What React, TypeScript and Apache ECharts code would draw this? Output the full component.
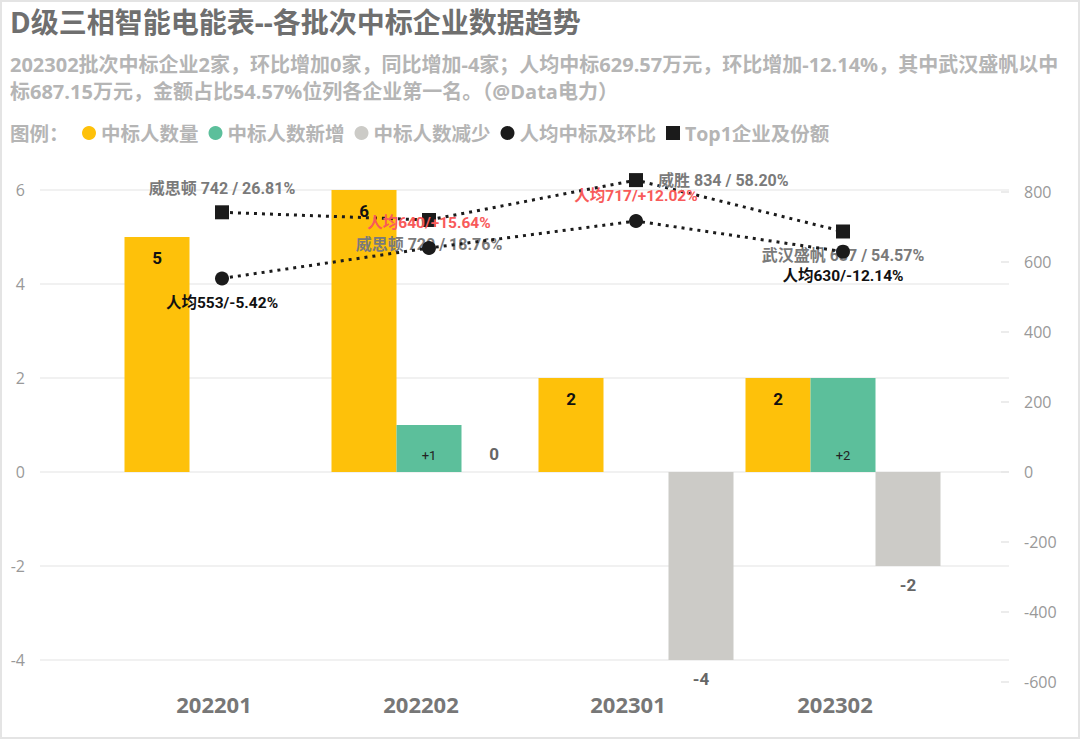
import { useEffect, useRef } from 'react';
import * as echarts from 'echarts';

// batches and bar values (number of winning companies)
const batches = ['202201', '202202', '202301', '202302'];
const winnerCount = [5, 6, 2, 2];
const winnerAdded = [null, 1, null, 2];
const winnerReduced = [null, 0, -4, -2];

// average award per company (万元) and change vs previous batch (%)
const avgAmount = [553, 640, 717, 629.57];
const avgChange = [-5.42, 15.64, 12.02, -12.14];

// top1 company per batch
const top1Names = ['威思顿', '威思顿', '威胜', '武汉盛帆'];
const top1Amount = [742, 720, 834, 687.15];
const top1Share = [26.81, 18.76, 58.2, 54.57];

const TITLE = 'D级三相智能电能表--各批次中标企业数据趋势';
const SUBTITLE =
  '202302批次中标企业2家，环比增加0家，同比增加-4家；人均中标629.57万元，环比增加-12.14%，其中武汉盛帆以中\n' +
  '标687.15万元，金额占比54.57%位列各企业第一名。（@Data电力）';

const YELLOW = '#FEC10A';
const GREEN = '#5CBF9B';
const GRAY = '#CCCBC7';
const DARK = '#1b1b1b';
const RED = '#F85A5A';

const UI_FONT = "'Open Sans', 'Noto Sans CJK SC', sans-serif";
const NUM_FONT = "Roboto, 'Noto Sans CJK SC', sans-serif";

const fmtChange = (c: number) => `${c > 0 ? '+' : ''}${c.toFixed(2)}%`;

export default function App() {
  const chartRef = useRef<HTMLDivElement>(null);

  useEffect(() => {
    if (!chartRef.current) return;
    const chart = echarts.init(chartRef.current, null, { renderer: 'svg' });

    const top1LabelPos = ['top', 'bottom', 'right', 'bottom'];

    chart.setOption({
      animation: false,
      backgroundColor: '#fff',
      textStyle: { fontFamily: UI_FONT },
      title: {
        left: 10,
        top: 5,
        padding: 0,
        itemGap: 12,
        text: TITLE,
        textStyle: { fontSize: 28, fontWeight: 'bold', color: '#6f6f6f', lineHeight: 34, fontFamily: UI_FONT },
        subtext: SUBTITLE,
        subtextStyle: { fontSize: 20, fontWeight: 'bold', color: '#b5b5b5', lineHeight: 27, fontFamily: UI_FONT },
      },
      graphic: [
        {
          type: 'rect',
          silent: true,
          z: -1,
          shape: { x: 1, y: 1, width: 1078, height: 737 },
          style: { fill: 'none', stroke: '#e4e4e4', lineWidth: 2 },
        },
        {
          type: 'text',
          x: 10,
          y: 133,
          style: {
            text: '图例：',
            verticalAlign: 'middle',
            fontSize: 19.5,
            fontWeight: 'bold',
            fill: '#b5b5b5',
            fontFamily: UI_FONT,
          },
        },
      ],
      legend: {
        left: 82,
        top: 121,
        padding: 0,
        itemWidth: 14,
        itemHeight: 14,
        itemGap: 10,
        selectedMode: false,
        textStyle: { color: '#b5b5b5', fontSize: 19.5, fontWeight: 'bold', lineHeight: 24, fontFamily: UI_FONT },
        data: [
          { name: '中标人数量', icon: 'circle' },
          { name: '中标人数新增', icon: 'circle' },
          { name: '中标人数减少', icon: 'circle' },
          { name: '人均中标及环比', icon: 'circle' },
          { name: 'Top1企业及份额', icon: 'rect' },
        ],
      },
      grid: [
        { left: 40, right: 71, top: 190, bottom: 79 }, // gridlines + left labels
        { left: 118.5, right: 133.5, top: 190, bottom: 79 }, // bars
        { left: 118.5, right: 133.5, top: 192, bottom: 57 }, // lines
        { left: 40, right: 71, top: 192, bottom: 57 }, // right labels
      ],
      xAxis: [
        { gridIndex: 0, type: 'value', show: false },
        {
          gridIndex: 1,
          type: 'category',
          data: batches,
          axisLine: { show: false },
          axisTick: { show: false },
          axisLabel: {
            color: '#777',
            fontSize: 22,
            fontWeight: 'bold',
            margin: 33,
            padding: [0, 16, 0, 0],
            fontFamily: UI_FONT,
          },
        },
        { gridIndex: 2, type: 'category', data: batches, show: false },
        { gridIndex: 3, type: 'value', show: false },
      ],
      yAxis: [
        {
          gridIndex: 0,
          type: 'value',
          min: -4,
          max: 6,
          interval: 2,
          axisLine: { show: false, onZero: false },
          axisTick: { show: false },
          axisLabel: { color: '#999', fontSize: 16, margin: 15, fontFamily: UI_FONT },
          splitLine: { lineStyle: { color: '#ececec', width: 1.5 } },
        },
        { gridIndex: 1, type: 'value', min: -4, max: 6, show: false },
        { gridIndex: 2, type: 'value', min: -600, max: 800, show: false },
        {
          gridIndex: 3,
          type: 'value',
          position: 'right',
          min: -600,
          max: 800,
          interval: 200,
          axisLine: { show: false, onZero: false },
          axisTick: { show: true, inside: true, length: 8, lineStyle: { color: '#e6e6e6', width: 1.5 } },
          axisLabel: { color: '#999', fontSize: 16, margin: 15, fontFamily: UI_FONT },
          splitLine: { show: false },
        },
      ],
      series: [
        {
          name: '中标人数量',
          type: 'bar',
          xAxisIndex: 1,
          yAxisIndex: 1,
          barWidth: 65,
          barGap: '0%',
          data: winnerCount,
          itemStyle: { color: YELLOW },
          label: {
            show: true,
            position: 'insideTop',
            distance: 12,
            color: '#111',
            fontSize: 17,
            fontWeight: 'bold',
            fontFamily: NUM_FONT,
          },
        },
        {
          name: '中标人数新增',
          type: 'bar',
          xAxisIndex: 1,
          yAxisIndex: 1,
          barWidth: 65,
          barGap: '0%',
          data: winnerAdded,
          itemStyle: { color: GREEN },
          label: {
            show: true,
            position: 'insideBottom',
            distance: 10,
            color: '#222',
            fontSize: 13,
            fontFamily: NUM_FONT,
            formatter: (p: any) => `+${p.value}`,
          },
        },
        {
          name: '中标人数减少',
          type: 'bar',
          xAxisIndex: 1,
          yAxisIndex: 1,
          barWidth: 65,
          barGap: '0%',
          data: winnerReduced.map((v) =>
            v == null ? null : { value: v, label: { position: v < 0 ? 'bottom' : 'top' } }
          ),
          itemStyle: { color: GRAY },
          label: {
            show: true,
            distance: 10,
            color: '#666',
            fontSize: 17,
            fontWeight: 'bold',
            fontFamily: NUM_FONT,
          },
        },
        {
          name: '人均中标及环比',
          type: 'line',
          xAxisIndex: 2,
          yAxisIndex: 2,
          clip: false,
          symbol: 'circle',
          symbolSize: 14,
          z: 4,
          data: avgAmount.map((v, i) => ({
            value: v,
            label: {
              position: avgChange[i] > 0 ? 'top' : 'bottom',
              color: avgChange[i] > 0 ? RED : '#111',
            },
          })),
          itemStyle: { color: DARK },
          lineStyle: { color: DARK, width: 3, type: [3, 5] },
          label: {
            show: true,
            distance: 10,
            fontSize: 15.5,
            fontWeight: 'bold',
            fontFamily: NUM_FONT,
            formatter: (p: any) => `人均${Math.round(p.value)}/${fmtChange(avgChange[p.dataIndex])}`,
          },
        },
        {
          name: 'Top1企业及份额',
          type: 'line',
          xAxisIndex: 2,
          yAxisIndex: 2,
          clip: false,
          symbol: 'rect',
          symbolSize: 14,
          z: 3,
          data: top1Amount.map((v, i) => ({
            value: v,
            label: { position: top1LabelPos[i], distance: top1LabelPos[i] === 'right' ? 15 : 9 },
          })),
          itemStyle: { color: DARK },
          lineStyle: { color: DARK, width: 3, type: [3, 5] },
          label: {
            show: true,
            color: '#7a7a7a',
            fontSize: 16,
            fontWeight: 'bold',
            fontFamily: NUM_FONT,
            formatter: (p: any) =>
              `${top1Names[p.dataIndex]} ${Math.round(p.value)} / ${top1Share[p.dataIndex].toFixed(2)}%`,
          },
        },
      ],
    });

    return () => {
      chart.dispose();
    };
  }, []);

  return (
    <div
      ref={chartRef}
      style={{ position: 'fixed', left: 0, top: 0, width: 1080, height: 739 }}
    />
  );
}
